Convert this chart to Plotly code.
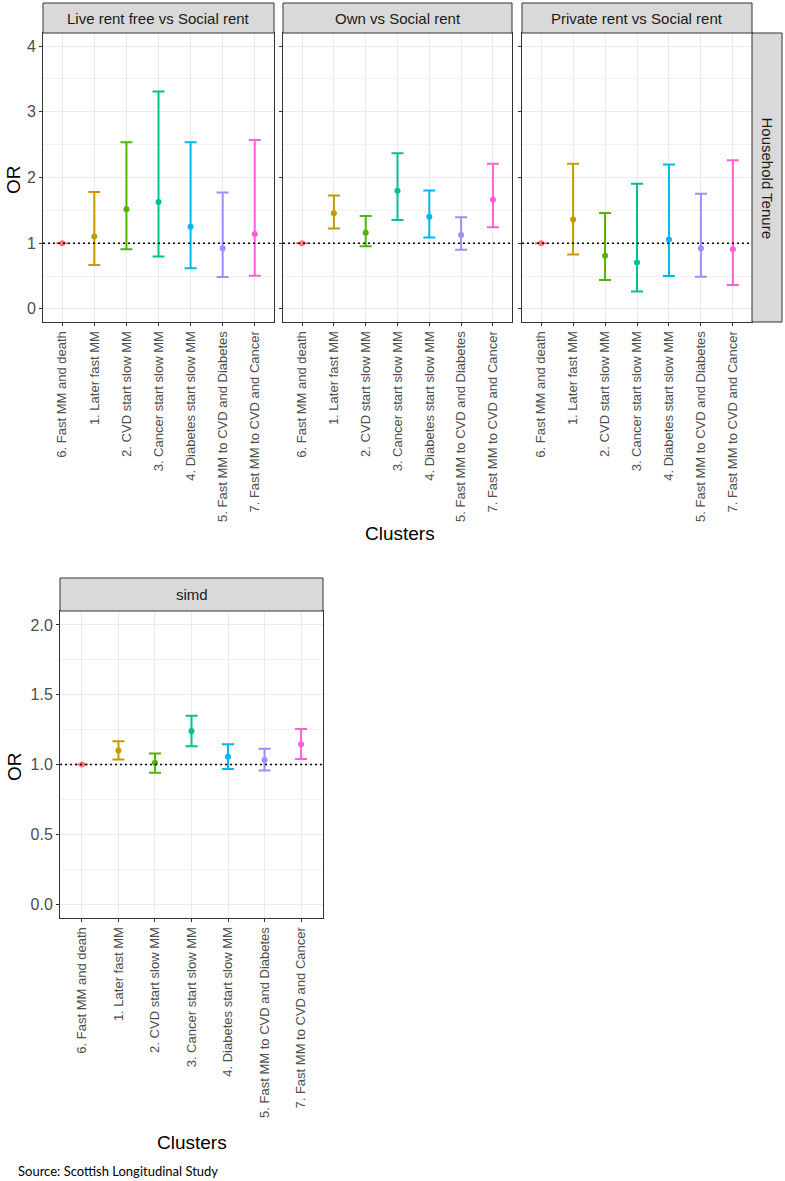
import plotly.graph_objects as go

W, H = 785, 1181

clusters = ["6. Fast MM and death", "1. Later fast MM", "2. CVD start slow MM",
            "3. Cancer start slow MM", "4. Diabetes start slow MM",
            "5. Fast MM to CVD and Diabetes", "7. Fast MM to CVD and Cancer"]
colors = ["#F8766D", "#C49A00", "#53B400", "#00C094", "#00B6EB", "#A58AFF", "#FB61D7"]

panels = ["Live rent free vs Social rent", "Own vs Social rent", "Private rent vs Social rent", "simd"]
row_label = "Household Tenure"

rentfree_or = [1.0, 1.10, 1.515, 1.626, 1.25, 0.924, 1.14]
rentfree_lo = [1.0, 0.667, 0.909, 0.798, 0.62, 0.485, 0.505]
rentfree_hi = [1.0, 1.78, 2.535, 3.31, 2.535, 1.77, 2.57]

own_or = [1.0, 1.455, 1.16, 1.80, 1.404, 1.126, 1.662]
own_lo = [1.0, 1.222, 0.955, 1.354, 1.086, 0.899, 1.242]
own_hi = [1.0, 1.727, 1.414, 2.37, 1.803, 1.394, 2.21]

private_or = [1.0, 1.359, 0.808, 0.707, 1.056, 0.924, 0.909]
private_lo = [1.0, 0.828, 0.439, 0.263, 0.50, 0.49, 0.364]
private_hi = [1.0, 2.21, 1.46, 1.904, 2.197, 1.753, 2.263]

simd_or = [1.0, 1.10, 1.012, 1.24, 1.055, 1.033, 1.145]
simd_lo = [1.0, 1.036, 0.941, 1.131, 0.967, 0.957, 1.040]
simd_hi = [1.0, 1.166, 1.078, 1.349, 1.145, 1.112, 1.254]

data = [(rentfree_or, rentfree_lo, rentfree_hi), (own_or, own_lo, own_hi),
        (private_or, private_lo, private_hi), (simd_or, simd_lo, simd_hi)]


def fx(p):
    return p / W


def fy(p):
    return 1 - p / H


# panel geometry in pixels: (x0, x1, ytop, ybottom, striptop)
geom = [(43, 274, 33, 322, 3), (283, 512, 33, 322, 3), (522, 752, 33, 322, 3),
        (60, 323, 611, 918, 578)]

FONT = "Arial, Liberation Sans, sans-serif"
fig = go.Figure()

for i, (vals, lo, hi) in enumerate(data):
    xa = "x" if i == 0 else f"x{i+1}"
    ya = "y" if i == 0 else f"y{i+1}"
    for j, c in enumerate(clusters):
        fig.add_trace(go.Scatter(
            x=[c], y=[vals[j]], xaxis=xa, yaxis=ya, mode="markers",
            marker=dict(color=colors[j], size=6),
            error_y=dict(type="data", symmetric=False,
                         array=[hi[j] - vals[j]], arrayminus=[vals[j] - lo[j]],
                         color=colors[j], thickness=2, width=6),
            showlegend=False, hoverinfo="skip"))

layout = dict(width=W, height=H, margin=dict(l=0, r=0, t=0, b=0),
              plot_bgcolor="white", paper_bgcolor="white",
              font=dict(family=FONT, color="#4D4D4D"), showlegend=False)

shapes = []
annotations = []
for i, (x0, x1, yt, yb, st) in enumerate(geom):
    sx = "" if i == 0 else str(i + 1)
    top = i < 3
    layout["xaxis" + sx] = dict(
        domain=[fx(x0), fx(x1)], anchor="y" + sx, type="category",
        categoryorder="array", categoryarray=clusters,
        range=[-0.6, 6.6], tickangle=-90, ticks="outside", ticklen=3,
        tickcolor="#333333", tickfont=dict(size=13, color="#4D4D4D", family=FONT),
        showgrid=True, gridcolor="#EBEBEB", gridwidth=1,
        showline=True, mirror=True, linecolor="#333333", linewidth=1,
        zeroline=False, fixedrange=True)
    if top:
        yd = dict(range=[-0.2, 4.2], tick0=0, dtick=1,
                  minor=dict(dtick=0.5, showgrid=True, gridcolor="#F2F2F2", gridwidth=0.8))
    else:
        yd = dict(range=[-0.1, 2.1], tick0=0, dtick=0.5, tickformat=".1f",
                  minor=dict(dtick=0.25, showgrid=True, gridcolor="#F2F2F2", gridwidth=0.8))
    yd.update(domain=[fy(yb), fy(yt)], anchor="x" + sx,
              ticks="outside", ticklen=3, tickcolor="#333333",
              tickfont=dict(size=16, color="#4D4D4D", family=FONT),
              showticklabels=(i in (0, 3)),
              showgrid=True, gridcolor="#EBEBEB", gridwidth=1,
              showline=True, mirror=True, linecolor="#333333", linewidth=1,
              zeroline=False, fixedrange=True)
    layout["yaxis" + sx] = yd

    # dotted reference line at OR = 1
    shapes.append(dict(type="line", xref=f"x{sx} domain", yref="y" + sx,
                       x0=0, x1=1, y0=1, y1=1,
                       line=dict(color="black", width=1.5, dash="2px,3px"), layer="above"))
    # strip
    shapes.append(dict(type="rect", xref="paper", yref="paper",
                       x0=fx(x0), x1=fx(x1), y0=fy(yt), y1=fy(st),
                       fillcolor="#D9D9D9", line=dict(color="#333333", width=1)))
    annotations.append(dict(text=panels[i], xref="paper", yref="paper",
                            x=fx((x0 + x1) / 2), y=fy((yt + st) / 2),
                            showarrow=False, xanchor="center", yanchor="middle",
                            font=dict(size=15, color="#1A1A1A", family=FONT)))

# right strip for row label
shapes.append(dict(type="rect", xref="paper", yref="paper",
                   x0=fx(752), x1=fx(782), y0=fy(322), y1=fy(33),
                   fillcolor="#D9D9D9", line=dict(color="#333333", width=1)))
annotations.append(dict(text=row_label, xref="paper", yref="paper",
                        x=fx(767), y=fy(177.5), textangle=90, showarrow=False,
                        xanchor="center", yanchor="middle",
                        font=dict(size=15, color="#1A1A1A", family=FONT)))

# axis titles
for (tx, ty, txt, ang) in [(14, 180, "OR", -90), (14, 767, "OR", -90),
                           (400, 533, "Clusters", 0), (192, 1142, "Clusters", 0)]:
    annotations.append(dict(text=txt, xref="paper", yref="paper", x=fx(tx), y=fy(ty),
                            textangle=ang, showarrow=False, xanchor="center", yanchor="middle",
                            font=dict(size=19, color="black", family=FONT)))

annotations.append(dict(text="Source: Scottish Longitudinal Study", xref="paper", yref="paper",
                        x=fx(16), y=fy(1171), showarrow=False, xanchor="left", yanchor="middle",
                        font=dict(size=13, color="black", family="Lato, Open Sans, sans-serif")))

layout["shapes"] = shapes
layout["annotations"] = annotations
fig.update_layout(**layout)
fig.write_html("out.html", config={"displayModeBar": False},
               post_script="document.body.style.margin='0';document.body.style.overflow='hidden';")
